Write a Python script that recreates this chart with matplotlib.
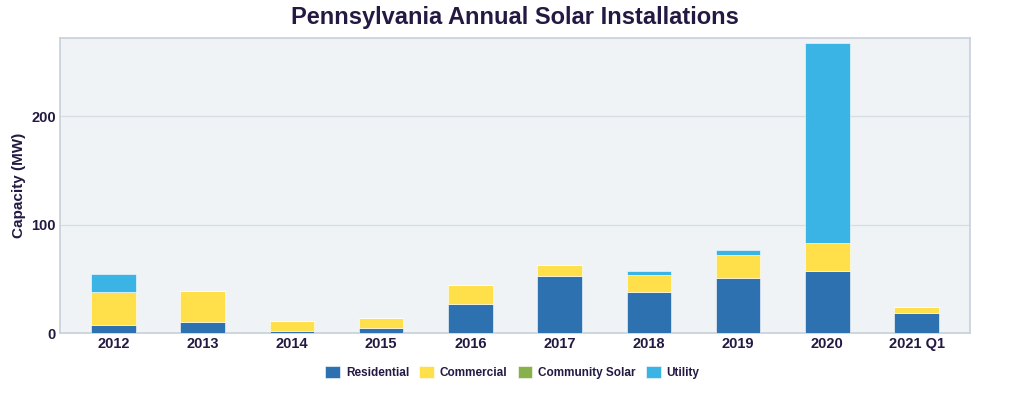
import numpy as np
import matplotlib.pyplot as plt

years = ["2012", "2013", "2014", "2015", "2016", "2017", "2018", "2019", "2020", "2021 Q1"]
residential = [7.4, 10.1, 2.1, 4.9, 27.0, 52.8, 37.4, 50.7, 57.4, 18.1]
commercial = [30.0, 28.2, 8.6, 8.6, 17.2, 9.9, 16.3, 21.2, 25.2, 5.5]
community = [0, 0, 0, 0, 0, 0, 0, 0, 0, 0]
utility = [17.3, 0, 0, 0, 0, 0, 3.7, 4.6, 185.0, 0]

series = [
    ("Residential", residential, "#2e71b0"),
    ("Commercial", commercial, "#ffe04b"),
    ("Community Solar", community, "#88b04b"),
    ("Utility", utility, "#3ab3e5"),
]

text_color = "#231942"
plt.rcParams['font.family'] = ['Liberation Sans', 'DejaVu Sans']

fig = plt.figure(figsize=(10.24, 3.94), dpi=100)
ax = fig.add_axes([0.0586, 0.1548, 0.8887, 0.7488])
ax.set_facecolor("#eff3f6")

x = np.arange(len(years))
bottom = np.zeros(len(years))
for name, vals, col in series:
    vals = np.array(vals, dtype=float)
    ax.bar(x, vals, 0.5, bottom=bottom, color=col, edgecolor="#ffffff", linewidth=0.4,
           label=name, zorder=3)
    bottom += vals

ax.set_xlim(-0.6, len(years) - 0.4)
ax.set_ylim(0, 272)
ax.set_yticks([0, 100, 200])
ax.set_xticks(x)
ax.set_xticklabels(years)
ax.grid(axis="y", color="#d6dde4", linewidth=0.9, zorder=0)
ax.tick_params(length=0, labelsize=10.5, labelcolor=text_color, pad=3)
for lbl in ax.get_xticklabels() + ax.get_yticklabels():
    lbl.set_fontweight("bold")
for s in ax.spines.values():
    s.set_color("#c8d0da")
    s.set_linewidth(1.2)

ax.set_ylabel("Capacity (MW)", fontsize=11, fontweight="bold", color=text_color, labelpad=4)
fig.suptitle("Pennsylvania Annual Solar Installations", x=0.503, y=0.985,
             fontsize=17, fontweight="bold", color=text_color)

leg = ax.legend(loc="upper center", bbox_to_anchor=(0.497, -0.075), ncol=4, frameon=False,
                fontsize=8.5, handlelength=1.25, handleheight=1.25, columnspacing=0.85,
                handletextpad=0.5)
for t in leg.get_texts():
    t.set_color(text_color)
    t.set_fontweight("bold")

fig.savefig("out.png", dpi=100)
